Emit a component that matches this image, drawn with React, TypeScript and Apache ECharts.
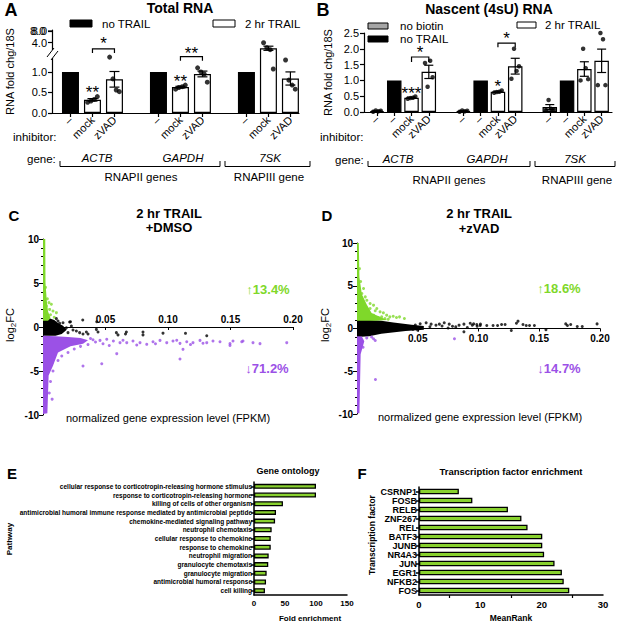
import React, { useEffect, useRef } from 'react';
import * as echarts from 'echarts';

const FONT = 'Liberation Sans, Arial, Helvetica, sans-serif';
const GREEN = '#7fd82a';
const BAR_GREEN = '#88d12e';
const PURPLE = '#9b51e6';
const GRAY = '#a6a6a6';

// ---------- Panel A: Total RNA ----------
const genesA = ['ACTB', 'GAPDH', '7SK'];
const inhibitorsA = ['–', 'mock', 'zVAD'];
const noTrailA = [1.0, 1.0, 1.0];
const mockA = [0.32, 0.63, 2.4];
const mockSemA = [0.03, 0.02, 0.6];
const mockDotsA = [
  [0.26, 0.29, 0.33, 0.4],
  [0.58, 0.62, 0.64, 0.68],
  [4.0, 2.57, 1.98, 1.07],
];
const zvadA = [0.82, 0.95, 0.84];
const zvadSemA = [0.19, 0.07, 0.16];
const zvadDotsA = [
  [1.36, 0.83, 0.56, 0.52],
  [1.1, 1.0, 0.95, 0.75],
  [1.29, 0.8, 0.68, 0.58],
];
const yTicksA = [0, 0.5, 1.0, 4.0, 8.0];

// ---------- Panel B: Nascent RNA ----------
const genesB = ['ACTB', 'GAPDH', '7SK'];
const inhibitorsB = ['–', '–', 'mock', 'zVAD'];
const noBiotinB = [0.03, 0.03, 0.155];
const noBiotinSemB = [0.01, 0.01, 0.08];
const noBiotinDotsB = [
  [0.01, 0.05, 0.02, 0.04],
  [0.01, 0.05, 0.02, 0.04],
  [0.06, 0.38, 0.1, 0.08],
];
const noTrailB = [1.0, 1.0, 1.0];
const mockB = [0.45, 0.64, 1.36];
const mockSemB = [0.02, 0.02, 0.23];
const mockDotsB = [
  [0.42, 0.44, 0.45, 0.49],
  [0.61, 0.63, 0.64, 0.68],
  [1.0, 2.0, 1.39, 1.04],
];
const zvadB = [1.27, 1.45, 1.62];
const zvadSemB = [0.21, 0.25, 0.37];
const zvadDotsB = [
  [1.55, 0.8, 1.62, 1.1],
  [1.05, 2.0, 1.3, 1.45],
  [0.85, 2.5, 2.3, 0.85],
];

// ---------- Panel C: 2 hr TRAIL + DMSO ----------
const greenBandC = [[0, 0.7], [0, 10], [0.0018, 10], [0.002, 5], [0.003, 3], [0.004, 1.8], [0.006, 1.0], [0.004, 0.7]];
const blackBandC = [[0, 1.0], [0.005, 1.0], [0.009, 0.8], [0.012, 0.45], [0.016, 0.15], [0.019, -0.3], [0.015, -0.8], [0.01, -1.0], [0, -1.0]];
const purpleBandC = [[0, -1.0], [0.01, -1.05], [0.02, -1.15], [0.03, -1.25], [0.036, -1.5], [0.032, -1.9], [0.022, -2.2], [0.012, -2.9], [0.008, -4.4], [0.0045, -5.5], [0.0035, -9.8], [0, -9.9]];
const greenPtsC = [[0.0048, 2.77], [0.0067, 2.58], [0.0027, 2.39], [0.0053, 2.0], [0.0107, 1.63], [0.008, 1.82], [0.0027, 1.63], [0.004, 1.25], [0.006, 1.4], [0.0035, 3.2], [0.002, 4.5], [0.009, 1.1]];
const blackPtsC = [[0.0213, 0.57], [0.0318, 0.8], [0.043, 0.6], [0.022, 0.6], [0.0227, 0.11], [0.0147, -0.27], [0.0187, -0.08], [0.0347, -0.57], [0.0427, -0.27], [0.044, -0.57], [0.0587, -0.64], [0.0667, -0.57], [0.08, -0.57], [0.066, -0.8], [0.06, -0.9], [0.08, -0.9], [0.096, -0.7], [0.114, -0.72], [0.131, -1.0], [0.036, -0.8], [0.032, -0.8], [0.012, 0.68], [0.0133, 0.42], [0.0107, 0.95], [0.016, 0.49], [0.0267, -0.45], [0.0293, -0.64], [0.02, -0.64], [0.024, -0.34]];
const purplePtsC = [[0.0456, -1.52], [0.051, -1.4], [0.0563, -1.59], [0.0616, -1.78], [0.067, -1.78], [0.072, -1.59], [0.0776, -1.78], [0.083, -1.97], [0.088, -1.67], [0.0936, -1.52], [0.099, -1.78], [0.104, -1.59], [0.1096, -1.86], [0.112, -2.54], [0.115, -1.67], [0.12, -1.78], [0.1256, -1.52], [0.131, -1.78], [0.136, -1.59], [0.1416, -1.67], [0.1496, -1.89], [0.1496, -2.1], [0.152, -1.59], [0.159, -1.67], [0.16, -1.59], [0.168, -1.78], [0.1736, -1.89], [0.195, -1.78], [0.059, -3.03], [0.047, -4.17], [0.032, -4.43], [0.1096, -3.64], [0.038, -1.3], [0.042, -1.7], [0.036, -2.0], [0.04, -1.45], [0.03, -2.2], [0.025, -2.5], [0.02, -2.9], [0.015, -3.3], [0.012, -3.8], [0.0083, -3.3], [0.003, -4.8], [0.008, -5.0], [0.006, -6.2], [0.0073, -8.2], [0.005, -7.5], [0.048, -1.9], [0.053, -2.1], [0.064, -1.5], [0.075, -2.05], [0.09, -1.9], [0.107, -1.5], [0.118, -2.0], [0.128, -1.85]];

// ---------- Panel D: 2 hr TRAIL + zVAD ----------
const greenBandD = [[0, 0.9], [0, 10], [0.0015, 10], [0.002, 6], [0.004, 4], [0.008, 2.8], [0.012, 1.8], [0.02, 1.3], [0.025, 1.0], [0.015, 0.9]];
const blackBandD = [[0, 1.0], [0.01, 1.0], [0.02, 0.9], [0.03, 0.7], [0.045, 0.45], [0.055, 0.3], [0.055, -0.15], [0.04, -0.3], [0.02, -0.6], [0.01, -0.9], [0, -1.0]];
const purpleBandD = [[0, -0.9], [0.004, -0.95], [0.006, -1.5], [0.003, -3], [0.002, -9.9], [0, -9.9]];
const greenPtsD = [[0.0054, 4.68], [0.004, 4.1], [0.0068, 3.7], [0.0081, 3.3], [0.0108, 2.92], [0.0136, 2.73], [0.0163, 2.34], [0.015, 2.07], [0.019, 1.95], [0.0217, 1.83], [0.0244, 1.56], [0.027, 1.36], [0.0298, 1.44], [0.0325, 1.29], [0.035, 1.36], [0.039, 1.17], [0.0108, 2.34], [0.0203, 1.36], [0.023, 1.17], [0.0136, 1.56], [0.0176, 1.29], [0.0257, 1.09], [0.003, 5.5], [0.002, 7.0]];
const blackPtsD = [[0.0569, 0.66], [0.061, 0.51], [0.065, 0.39], [0.0678, 0.51], [0.0718, 0.66], [0.0759, 0.51], [0.0786, 0.27], [0.0813, 0.19], [0.084, 0.39], [0.088, 0.51], [0.0908, 0.12], [0.0949, 0.39], [0.0989, 0.27], [0.1016, 0.51], [0.088, -0.39], [0.0932, 0.62], [0.096, 0.54], [0.0986, 0.47], [0.1014, 0.35], [0.1068, 0.35], [0.112, 0.35], [0.1157, 0.35], [0.119, 0.47], [0.1219, 0.47], [0.127, -0.23], [0.1325, 0.86], [0.1312, 0.62], [0.1366, 0.47], [0.1393, 0.35], [0.142, 0.35], [0.146, 0.35], [0.1555, -0.15], [0.1718, 0.54], [0.1732, 0.35], [0.1759, 0.47], [0.1813, 0.23], [0.1854, 0.23], [0.1976, 0.54], [0.048, 0.4], [0.05, -0.2], [0.052, 0.55], [0.046, -0.1], [0.06, 0.2], [0.07, 0.3], [0.075, 0.05]];
const purplePtsD = [[0.012, -1.0], [0.0136, -1.2], [0.015, -1.4], [0.0802, -1.2], [0.0152, -5.96], [0.008, -1.1], [0.005, -2.2]];

// ---------- Panel E: Gene ontology ----------
const pathways = [
  'cellular response to corticotropin-releasing hormone stimulus',
  'response to corticotropin-releasing hormone',
  'killing of cells of other organism',
  'antimicrobial humoral immune response mediated by antimicrobial peptide',
  'chemokine-mediated signaling pathway',
  'neutrophil chemotaxis',
  'cellular response to chemokine',
  'response to chemokine',
  'neutrophil migration',
  'granulocyte chemotaxis',
  'granulocyte migration',
  'antimicrobial humoral response',
  'cell killing',
];
const foldEnrichment = [100, 100, 46.7, 35.5, 34, 28.5, 27, 27, 23.7, 23, 20.4, 19.4, 17.7];

// ---------- Panel F: Transcription factor enrichment ----------
const factors = ['CSRNP1', 'FOSB', 'RELB', 'ZNF267', 'REL', 'BATF3', 'JUNB', 'NR4A3', 'JUN', 'EGR1', 'NFKB2', 'FOS'];
const meanRank = [6.5, 8.7, 14.5, 16.7, 17.7, 20.1, 20.1, 20.4, 22.1, 23.3, 23.6, 24.5];

// ---------- styling helpers ----------
const DOT_JITTER = [-0.22, -0.07, 0.08, 0.22];
// broken axis of panel A: linear to 1.5, compressed between 1.5 and 4, then the 4..8 segment
const tf = (v: number) => (v <= 1.5 ? v : v <= 4 ? 1.5 + ((v - 1.5) / 2.5) * 0.21 : 1.71 + ((v - 4) / 4) * 0.29);
const ticksYA = yTicksA.map((v) => Math.round(tf(v) * 1000) / 1000);

const bracketsA = [{ from: 1, to: 2, y: 1.56, leg: 0.1 }, { from: 5, to: 6, y: 1.37, leg: 0.1 }];
const starsA = [
  { x: 1, y: 0.49, text: '**' },
  { x: 5, y: 0.76, text: '**' },
  { x: 1.5, y: 1.68, text: '*' },
  { x: 5.5, y: 1.46, text: '**' },
];
const bracketsB = [{ from: 2, to: 3, y: 1.74, leg: 0.16 }, { from: 7, to: 8, y: 2.18, leg: 0.13 }];
const starsB = [
  { x: 2, y: 0.6, text: '***' },
  { x: 7, y: 0.82, text: '*' },
  { x: 2.5, y: 1.88, text: '*' },
  { x: 7.5, y: 2.34, text: '*' },
];

const black = '#000';
const axisLine = (w = 1.2) => ({ show: true, onZero: false, lineStyle: { color: black, width: w } });

function polySeries(xi: number, yi: number, pts: number[][], color: string) {
  return {
    type: 'custom', xAxisIndex: xi, yAxisIndex: yi, silent: true, data: [pts[0]],
    renderItem: (_p: any, api: any) => ({
      type: 'polygon',
      shape: { points: pts.map((q) => api.coord(q)) },
      style: { fill: color },
    }),
  };
}
function ptSeries(xi: number, yi: number, pts: number[][], color: string, size = 3) {
  return { type: 'scatter', xAxisIndex: xi, yAxisIndex: yi, data: pts, symbolSize: size, itemStyle: { color }, silent: true };
}
// rows: [x, mean, hi, lo]
function errSeries(xi: number, yi: number, rows: number[][], w: number) {
  return {
    type: 'custom', xAxisIndex: xi, yAxisIndex: yi, silent: true, z: 4,
    data: rows.map((r) => [r[0], r[1]]),
    renderItem: (p: any, api: any) => {
      const r = rows[p.dataIndex];
      const hi = api.coord([r[0], r[2]]);
      const lo = api.coord([r[0], r[3]]);
      const st = { stroke: black, lineWidth: 1.2 };
      return {
        type: 'group',
        children: [
          { type: 'line', shape: { x1: hi[0], y1: hi[1], x2: lo[0], y2: lo[1] }, style: st },
          { type: 'line', shape: { x1: hi[0] - w, y1: hi[1], x2: hi[0] + w, y2: hi[1] }, style: st },
          { type: 'line', shape: { x1: lo[0] - w, y1: lo[1], x2: lo[0] + w, y2: lo[1] }, style: st },
        ],
      };
    },
  };
}
function bracketSeries(xi: number, yi: number, br: any[]) {
  return {
    type: 'custom', xAxisIndex: xi, yAxisIndex: yi, silent: true,
    data: br.map((b) => [b.from, b.y]),
    renderItem: (p: any, api: any) => {
      const b = br[p.dataIndex];
      return {
        type: 'polyline',
        shape: { points: [api.coord([b.from, b.y - b.leg]), api.coord([b.from, b.y]), api.coord([b.to, b.y]), api.coord([b.to, b.y - b.leg])] },
        style: { stroke: black, lineWidth: 1.2, fill: 'none' },
      };
    },
  };
}
function starSeries(xi: number, yi: number, stars: any[]) {
  return {
    type: 'custom', xAxisIndex: xi, yAxisIndex: yi, silent: true, z: 5,
    data: stars.map((s) => [s.x, s.y]),
    renderItem: (p: any, api: any) => {
      const s = stars[p.dataIndex];
      const c = api.coord([s.x, s.y]);
      return {
        type: 'text', x: c[0], y: c[1],
        style: { text: s.text, font: `17px ${FONT}`, lineHeight: 10, fill: black, align: 'center', verticalAlign: 'middle', textAlign: 'center', textVerticalAlign: 'middle' },
      };
    },
  };
}

function txt(text: string, x: number, y: number, font: string, opts: any = {}) {
  const align = opts.align || 'center';
  const style: any = { text, font, fill: opts.fill || black, align, verticalAlign: 'middle', textAlign: align, textVerticalAlign: 'middle' };
  if (opts.rich) style.rich = opts.rich;
  return { type: 'text', x, y, rotation: opts.rotation || 0, z: 100, style };
}
function bracket(x1: number, x2: number, y: number) {
  return { type: 'polyline', z: 100, shape: { points: [[x1, y - 5.5], [x1, y], [x2, y], [x2, y - 5.5]] }, style: { stroke: black, lineWidth: 1, fill: 'none' } };
}
function rect(x: number, y: number, w: number, h: number, fill: string) {
  return { type: 'rect', z: 100, shape: { x, y, width: w, height: h }, style: { fill, stroke: black, lineWidth: 1 } };
}

export default function App() {
  const ref = useRef<HTMLDivElement>(null);
  useEffect(() => {
    if (!ref.current) return;
    const chart = echarts.init(ref.current, undefined, { renderer: 'svg' });

    // ----- panel A series data -----
    const barsA: any[] = [];
    const errA: number[][] = [];
    const dotsA: number[][] = [];
    genesA.forEach((_g, g) => {
      const b = g * 4;
      barsA.push({ value: [b, tf(noTrailA[g])], itemStyle: { color: black } });
      barsA.push({ value: [b + 1, tf(mockA[g])], itemStyle: { color: '#fff' } });
      barsA.push({ value: [b + 2, tf(zvadA[g])], itemStyle: { color: '#fff' } });
      errA.push([b + 1, tf(mockA[g]), tf(mockA[g] + mockSemA[g]), tf(mockA[g] - mockSemA[g])]);
      errA.push([b + 2, tf(zvadA[g]), tf(zvadA[g] + zvadSemA[g]), tf(zvadA[g] - zvadSemA[g])]);
      mockDotsA[g].forEach((d, j) => dotsA.push([b + 1 + DOT_JITTER[j], tf(d)]));
      zvadDotsA[g].forEach((d, j) => dotsA.push([b + 2 + DOT_JITTER[j], tf(d)]));
    });
    const ticksA = [0, 1, 2, 4, 5, 6, 8, 9, 10];

    // ----- panel B series data -----
    const barsB: any[] = [];
    const errB: number[][] = [];
    const dotsB: number[][] = [];
    genesB.forEach((_g, g) => {
      const b = g * 5;
      barsB.push({ value: [b, noBiotinB[g]], itemStyle: { color: GRAY } });
      barsB.push({ value: [b + 1, noTrailB[g]], itemStyle: { color: black } });
      barsB.push({ value: [b + 2, mockB[g]], itemStyle: { color: '#fff' } });
      barsB.push({ value: [b + 3, zvadB[g]], itemStyle: { color: '#fff' } });
      const groups: [number, number, number, number[]][] = [
        [b, noBiotinB[g], noBiotinSemB[g], noBiotinDotsB[g]],
        [b + 2, mockB[g], mockSemB[g], mockDotsB[g]],
        [b + 3, zvadB[g], zvadSemB[g], zvadDotsB[g]],
      ];
      groups.forEach(([x, m, s, dots]) => {
        errB.push([x, m, m + s, Math.max(0, m - s)]);
        dots.forEach((d, j) => dotsB.push([x + DOT_JITTER[j], d]));
      });
    });
    const ticksB = [0, 1, 2, 3, 5, 6, 7, 8, 10, 11, 12, 13];

    const lbl = (size: number, extra: any = {}) => ({ color: black, fontSize: size, fontFamily: FONT, ...extra });
    const noSplit = { show: false };

    const option: any = {
      animation: false,
      backgroundColor: '#fff',
      textStyle: { fontFamily: FONT },
      grid: [
        { left: 52, top: 30, right: 318, bottom: 510, outerBoundsMode: 'none' },
        { left: 364, top: 33, right: 5, bottom: 511, outerBoundsMode: 'none' },
        { left: 43, top: 239, right: 324, bottom: 208, outerBoundsMode: 'none' },
        { left: 357, top: 243, right: 17, bottom: 209, outerBoundsMode: 'none' },
        { left: 254, top: 482, right: 270, bottom: 28, outerBoundsMode: 'none' },
        { left: 419, top: 487, right: 14, bottom: 28, outerBoundsMode: 'none' },
      ],
      xAxis: [
        {
          gridIndex: 0, type: 'value', min: -0.84, max: 10.39, axisLine: axisLine(),
          axisTick: { customValues: ticksA, length: 4, lineStyle: { color: black, width: 1.2 } },
          axisLabel: { customValues: ticksA, rotate: 45, margin: 5, hideOverlap: false, formatter: (v: number) => inhibitorsA[Math.round(v) % 4] || '', ...lbl(11) },
          splitLine: noSplit,
        },
        {
          gridIndex: 1, type: 'value', min: -0.75, max: 13.6, axisLine: axisLine(),
          axisTick: { customValues: ticksB, length: 4, lineStyle: { color: black, width: 1.2 } },
          axisLabel: { customValues: ticksB, rotate: 45, margin: 5, hideOverlap: false, formatter: (v: number) => inhibitorsB[Math.round(v) % 5] || '', ...lbl(11) },
          splitLine: noSplit,
        },
        {
          // zero line of panel C: 88 px above the grid's bottom edge
          gridIndex: 2, type: 'value', min: 0, max: 0.2, interval: 0.05, axisLine: axisLine(1), offset: -88,
          axisTick: { length: 3, lineStyle: { color: black } },
          axisLabel: { inside: true, margin: 3, formatter: (v: number) => (v === 0 ? '' : v.toFixed(2)), ...lbl(10, { fontWeight: 'bold' }) },
          splitLine: noSplit,
        },
        {
          gridIndex: 3, type: 'value', min: 0, max: 0.2, interval: 0.05, axisLine: axisLine(1), offset: -85.5,
          axisTick: { length: 3, lineStyle: { color: black } },
          axisLabel: { margin: 5, formatter: (v: number) => (v === 0 ? '' : v.toFixed(2)), ...lbl(10, { fontWeight: 'bold' }) },
          splitLine: noSplit,
        },
        {
          gridIndex: 4, type: 'value', min: 0, max: 150, interval: 50, axisLine: axisLine(1.5),
          axisTick: { length: 4, lineStyle: { color: black, width: 1.5 } },
          axisLabel: { margin: 4, ...lbl(8, { fontWeight: 'bold' }) },
          splitLine: noSplit,
        },
        {
          gridIndex: 5, type: 'value', min: 0, max: 30, interval: 10, axisLine: axisLine(1.5),
          axisTick: { length: 4, lineStyle: { color: black, width: 1.5 } },
          minorTick: { show: true, splitNumber: 2, length: 3, lineStyle: { color: black, width: 1.2 } },
          axisLabel: { margin: 4, ...lbl(9.5, { fontWeight: 'bold' }) },
          splitLine: noSplit,
        },
      ],
      yAxis: [
        {
          gridIndex: 0, type: 'value', min: 0, max: 2.02, axisLine: axisLine(),
          axisTick: { show: true, customValues: ticksYA, length: 4, lineStyle: { color: black, width: 1.2 } },
          axisLabel: {
            customValues: ticksYA, margin: 5, hideOverlap: false, lineHeight: 10,
            formatter: (v: number) => {
              let best = 0;
              ticksYA.forEach((t, i) => { if (Math.abs(t - v) < Math.abs(ticksYA[best] - v)) best = i; });
              return yTicksA[best].toFixed(1);
            },
            ...lbl(11),
          },
          splitLine: noSplit,
          name: 'RNA fold chg/18S', nameLocation: 'middle', nameGap: 37, nameTextStyle: lbl(11),
        },
        {
          gridIndex: 1, type: 'value', min: 0, max: 2.5, interval: 0.5, axisLine: axisLine(),
          axisTick: { show: true, length: 4, lineStyle: { color: black, width: 1.2 } },
          axisLabel: { margin: 5, formatter: (v: number) => v.toFixed(1), ...lbl(11) },
          splitLine: noSplit,
          name: 'RNA fold chg/18S', nameLocation: 'middle', nameGap: 31, nameTextStyle: lbl(11),
        },
        {
          gridIndex: 2, type: 'value', min: -10, max: 10, interval: 5, axisLine: axisLine(1),
          axisTick: { show: true, length: 4, lineStyle: { color: black } },
          minorTick: { show: true, splitNumber: 5, length: 2, lineStyle: { color: black } },
          axisLabel: { margin: 4, ...lbl(10, { fontWeight: 'bold' }) },
          splitLine: noSplit,
        },
        {
          gridIndex: 3, type: 'value', min: -10, max: 10, interval: 5, axisLine: axisLine(1),
          axisTick: { show: true, length: 4, lineStyle: { color: black } },
          minorTick: { show: true, splitNumber: 5, length: 2, lineStyle: { color: black } },
          axisLabel: { margin: 4, ...lbl(10, { fontWeight: 'bold' }) },
          splitLine: noSplit,
        },
        {
          gridIndex: 4, type: 'category', data: pathways, inverse: true, axisLine: axisLine(1.5),
          axisTick: { show: true, alignWithLabel: true, length: 3, lineStyle: { color: black, width: 1.5 } },
          axisLabel: { interval: 0, margin: 2, ...lbl(6.5, { fontWeight: 'bold' }) },
        },
        {
          gridIndex: 5, type: 'category', data: factors, inverse: true, axisLine: axisLine(1.5),
          axisTick: { show: true, alignWithLabel: true, length: 3, lineStyle: { color: black, width: 1.5 } },
          axisLabel: { interval: 0, margin: 2, ...lbl(9, { fontWeight: 'bold' }) },
        },
      ],
      series: [
        // A
        { type: 'bar', xAxisIndex: 0, yAxisIndex: 0, data: barsA, barWidth: 17, itemStyle: { borderColor: black, borderWidth: 1.2 }, silent: true },
        errSeries(0, 0, errA, 5),
        ptSeries(0, 0, dotsA, black, 5),
        bracketSeries(0, 0, bracketsA),
        starSeries(0, 0, starsA),
        // B
        { type: 'bar', xAxisIndex: 1, yAxisIndex: 1, data: barsB, barWidth: 14.5, itemStyle: { borderColor: black, borderWidth: 1.2 }, silent: true },
        errSeries(1, 1, errB, 4.5),
        ptSeries(1, 1, dotsB, black, 4.5),
        bracketSeries(1, 1, bracketsB),
        starSeries(1, 1, starsB),
        // C
        polySeries(2, 2, blackBandC, black),
        polySeries(2, 2, greenBandC, GREEN),
        polySeries(2, 2, purpleBandC, PURPLE),
        ptSeries(2, 2, greenPtsC, GREEN),
        ptSeries(2, 2, blackPtsC, black),
        ptSeries(2, 2, purplePtsC, PURPLE),
        // D
        polySeries(3, 3, blackBandD, black),
        polySeries(3, 3, greenBandD, GREEN),
        polySeries(3, 3, purpleBandD, PURPLE),
        ptSeries(3, 3, greenPtsD, GREEN),
        ptSeries(3, 3, blackPtsD, black),
        ptSeries(3, 3, purplePtsD, PURPLE),
        // E
        { type: 'bar', xAxisIndex: 4, yAxisIndex: 4, data: foldEnrichment, barWidth: 5, itemStyle: { color: BAR_GREEN, borderColor: black, borderWidth: 1.3 }, silent: true },
        // F
        { type: 'bar', xAxisIndex: 5, yAxisIndex: 5, data: meanRank, barWidth: 5.5, itemStyle: { color: BAR_GREEN, borderColor: black, borderWidth: 1.3 }, silent: true },
      ],
      graphic: [
        // panel letters and titles
        txt('A', 11, 10, `bold 18px ${FONT}`),
        txt('B', 323, 10, `bold 18px ${FONT}`),
        txt('C', 14, 215, `bold 15px ${FONT}`),
        txt('D', 327, 215, `bold 15px ${FONT}`),
        txt('E', 12, 473, `bold 15px ${FONT}`),
        txt('F', 362, 473, `bold 15px ${FONT}`),
        txt('Total RNA', 180, 8, `bold 14px ${FONT}`),
        txt('Nascent (4sU) RNA', 489, 9, `bold 14px ${FONT}`),
        // top tick of the broken axis of A (the axis drops its end label)
        { type: 'line', z: 100, shape: { x1: 48, y1: 31, x2: 52, y2: 31 }, style: { stroke: black, lineWidth: 1.2 } },
        txt(yTicksA[yTicksA.length - 1].toFixed(1), 30, 31, `11px ${FONT}`, { align: 'left' }),
        // legend A
        rect(70, 20, 22, 7, black),
        txt('no TRAIL', 102, 24, `11.5px ${FONT}`, { align: 'left' }),
        rect(213, 20, 22, 7, '#fff'),
        txt('2 hr TRAIL', 245, 24, `11.5px ${FONT}`, { align: 'left' }),
        // legend B
        rect(368, 23, 20, 6, GRAY),
        txt('no biotin', 400, 26, `11.5px ${FONT}`, { align: 'left' }),
        rect(368, 36, 20, 6, black),
        txt('no TRAIL', 400, 39, `11.5px ${FONT}`, { align: 'left' }),
        rect(517, 22, 19, 6, '#fff'),
        txt('2 hr TRAIL', 545, 25, `11.5px ${FONT}`, { align: 'left' }),
        // axis break A
        { type: 'rect', z: 100, shape: { x: 46, y: 50, width: 12, height: 8 }, style: { fill: '#fff' } },
        { type: 'line', z: 101, shape: { x1: 47, y1: 57, x2: 54, y2: 48 }, style: { stroke: black, lineWidth: 1 } },
        { type: 'line', z: 101, shape: { x1: 51, y1: 60, x2: 58, y2: 51 }, style: { stroke: black, lineWidth: 1 } },
        // rows under A
        txt('inhibitor:', 13, 137, `11.5px ${FONT}`, { align: 'left' }),
        txt('gene:', 27, 159, `11.5px ${FONT}`, { align: 'left' }),
        txt(genesA[0], 97, 158, `italic 11.5px ${FONT}`),
        txt(genesA[1], 183, 158, `italic 11.5px ${FONT}`),
        txt(genesA[2], 270, 158, `italic 11.5px ${FONT}`),
        bracket(60, 220, 166.5),
        bracket(225, 310, 166.5),
        txt('RNAPII genes', 141, 177, `11.5px ${FONT}`),
        txt('RNAPIII gene', 269, 177, `11.5px ${FONT}`),
        // rows under B
        txt('inhibitor:', 320, 137, `11.5px ${FONT}`, { align: 'left' }),
        txt('gene:', 335, 160, `11.5px ${FONT}`, { align: 'left' }),
        txt(genesB[0], 398, 159, `italic 11.5px ${FONT}`),
        txt(genesB[1], 487, 159, `italic 11.5px ${FONT}`),
        txt(genesB[2], 575, 159, `italic 11.5px ${FONT}`),
        bracket(368, 530, 166.5),
        bracket(535, 615, 166.5),
        txt('RNAPII genes', 449, 180, `11.5px ${FONT}`),
        txt('RNAPIII gene', 577, 180, `11.5px ${FONT}`),
        // C & D titles and annotations
        txt('2 hr TRAIL', 169, 213, `bold 13px ${FONT}`),
        txt('+DMSO', 169, 227, `bold 13px ${FONT}`),
        txt('2 hr TRAIL', 479, 213, `bold 13px ${FONT}`),
        txt('+zVAD', 479, 228, `bold 13px ${FONT}`),
        txt('↑13.4%', 268, 289, `bold 13px ${FONT}`, { fill: GREEN }),
        txt('↓71.2%', 267, 368, `bold 13px ${FONT}`, { fill: PURPLE }),
        txt('↑18.6%', 559, 288, `bold 13px ${FONT}`, { fill: GREEN }),
        txt('↓14.7%', 559, 368, `bold 13px ${FONT}`, { fill: PURPLE }),
        txt('normalized gene expression level (FPKM)', 168, 418, `11px ${FONT}`),
        txt('normalized gene expression level (FPKM)', 480, 417, `11px ${FONT}`),
        txt('log{s|2}FC', 10, 325, `11px ${FONT}`, { rotation: Math.PI / 2, rich: { s: { fontSize: 8, verticalAlign: 'bottom', padding: [6, 0, 0, 0] } } }),
        txt('log{s|2}FC', 325, 325, `11px ${FONT}`, { rotation: Math.PI / 2, rich: { s: { fontSize: 8, verticalAlign: 'bottom', padding: [6, 0, 0, 0] } } }),
        // E & F titles
        txt('Gene ontology', 288, 471, `bold 9px ${FONT}`),
        txt('Transcription factor enrichment', 511, 471, `bold 9.5px ${FONT}`),
        txt('Pathway', 9, 539, `bold 8px ${FONT}`, { rotation: Math.PI / 2 }),
        txt('Fold enrichment', 310, 618, `bold 8px ${FONT}`),
        txt('Transcription factor', 372, 535, `bold 8.5px ${FONT}`, { rotation: Math.PI / 2 }),
        txt('MeanRank', 511, 618, `bold 8.5px ${FONT}`),
      ],
    };
    chart.setOption(option);
    return () => chart.dispose();
  }, []);
  return <div ref={ref} style={{ position: 'absolute', left: 0, top: 0, width: 617, height: 623, background: '#fff' }} />;
}
